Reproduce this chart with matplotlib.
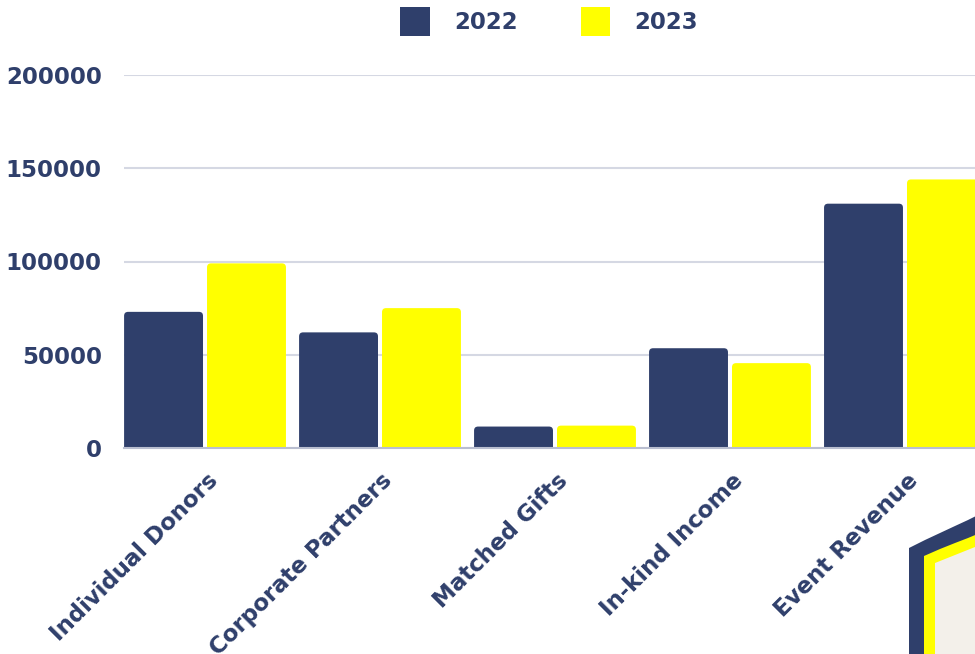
import matplotlib
matplotlib.use("Agg")
import matplotlib.pyplot as plt
from matplotlib.patches import FancyBboxPatch, Polygon
from matplotlib.transforms import ScaledTranslation

# data
categories = ["Individual Donors", "Corporate Partners", "Matched Gifts",
              "In-kind Income", "Event Revenue"]
series_names = ["2022", "2023"]
values_2022 = [73000, 62000, 11500, 53500, 131000]
values_2023 = [99000, 75000, 12000, 45500, 144000]
y_ticks = [0, 50000, 100000, 150000, 200000]

NAVY = "#2f3f6b"
YELLOW = "#ffff00"
GRID = "#d5d8e3"
FONT = "DejaVu Sans"
FS = 16.5

W, H = 975, 654
fig = plt.figure(figsize=(W / 100, H / 100), dpi=100)
fig.patch.set_facecolor("white")

# axes runs a little past the right edge like in the reference
ax = fig.add_axes([124 / W, (H - 448) / H, 862 / W, 373 / H])
ax.set_facecolor("none")

x = range(len(categories))
bw = 0.451
off = 0.237
bars_a = ax.bar([i - off for i in x], values_2022, width=bw, color=NAVY)
bars_b = ax.bar([i + off for i in x], values_2023, width=bw, color=YELLOW)

ax.set_xlim(-0.463, 4.463)
ax.set_ylim(0, 200000)

# swap plain rectangles for ones with slightly rounded tops
px_x = 1 / 175.0
px_y = 200000 / 373.0
r = 4 * px_x
for cont in (bars_a, bars_b):
    for rect in cont:
        x0, w, h = rect.get_x(), rect.get_width(), rect.get_height()
        p = FancyBboxPatch((x0 + r, -h), w - 2 * r, 2 * h - r / px_x * px_y,
                           boxstyle=f"round,pad={r},rounding_size={r}",
                           mutation_aspect=px_y / px_x,
                           facecolor=rect.get_facecolor(), edgecolor="none",
                           zorder=2)
        ax.add_patch(p)
        rect.set_visible(False)

ax.set_yticks(y_ticks)
ax.set_yticklabels([str(v) for v in y_ticks])
ax.yaxis.grid(True, color=GRID, linewidth=1.5)
ax.set_axisbelow(True)
for s in ["left", "right", "top"]:
    ax.spines[s].set_visible(False)
ax.spines["bottom"].set_color("#b9bed0")
ax.spines["bottom"].set_linewidth(1.5)
ax.spines["bottom"].set_zorder(3)
ax.tick_params(axis="both", length=0, colors=NAVY)
ax.tick_params(axis="y", pad=16)
for t in ax.get_yticklabels():
    t.set_fontfamily(FONT)
    t.set_fontweight("bold")
    t.set_fontsize(FS)

ax.set_xticks(list(x))
ax.set_xticklabels(categories, rotation=45, ha="right", va="top",
                   rotation_mode="anchor", fontfamily=FONT,
                   fontweight="bold", fontsize=FS, color=NAVY)
ax.tick_params(axis="x", pad=15)
shift = ScaledTranslation(0.01, 0, fig.dpi_scale_trans)
for t in ax.get_xticklabels():
    t.set_transform(t.get_transform() + shift)

# legend squares with rounded corners, placed like the reference
handles = [FancyBboxPatch((0, 0), 1, 1, boxstyle="round,pad=0,rounding_size=0.1",
                          facecolor=c, edgecolor="none") for c in (NAVY, YELLOW)]
leg = fig.legend(handles, series_names, loc="upper center",
                 bbox_to_anchor=(549 / W, 1 - 7 / H), ncol=2, frameon=False,
                 borderpad=0, borderaxespad=0,
                 handlelength=1.3, handleheight=1.6, handletextpad=1.05,
                 columnspacing=2.75,
                 prop={"family": FONT, "weight": "bold", "size": FS},
                 labelcolor=NAVY)


# decorative badge corner in the bottom right
def fig_pts(pts):
    return [(px / W, 1 - py / H) for px, py in pts]


outer = [(909, 660), (909, 548), (925, 540), (940, 533), (955, 526),
         (968, 520), (980, 514), (980, 660)]
middle = [(924, 660), (924, 556), (940, 549), (955, 543), (968, 538),
          (980, 533), (980, 660)]
inner = [(935, 660), (935, 563), (950, 557), (965, 551), (980, 545),
         (980, 660)]
for pts, col in ((outer, NAVY), (middle, YELLOW), (inner, "#f3f0ea")):
    fig.patches.append(Polygon(fig_pts(pts), closed=True, facecolor=col,
                               edgecolor="none", transform=fig.transFigure))

fig.savefig("out.png", dpi=100)
